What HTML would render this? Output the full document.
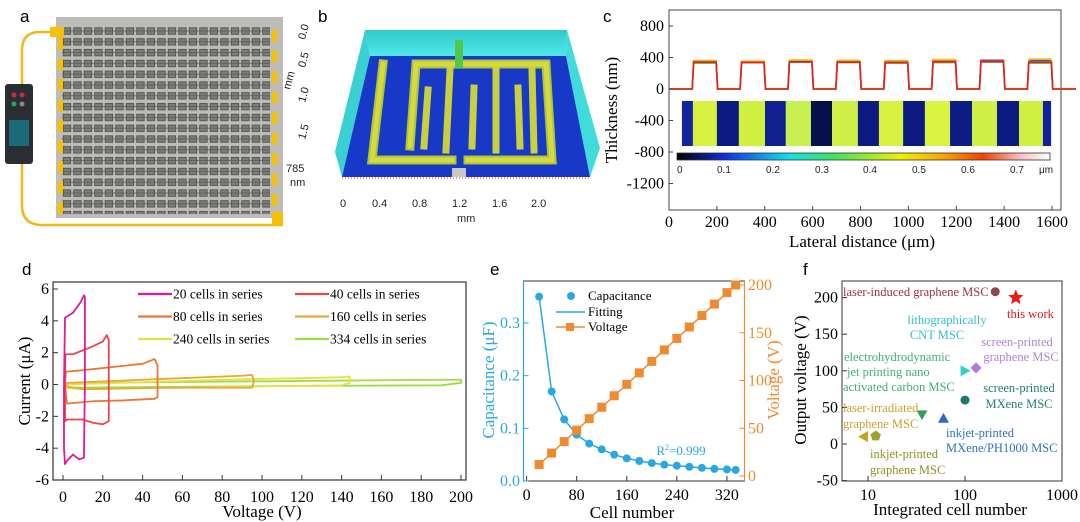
<!DOCTYPE html>
<html><head><meta charset="utf-8"><style>
html,body{margin:0;padding:0;background:#fff;}
svg{display:block;font-family:"Liberation Serif",serif;}
.sans{font-family:"Liberation Sans",sans-serif;}
</style></head><body>
<svg id="fig" width="1080" height="522" viewBox="0 0 1080 522" xmlns="http://www.w3.org/2000/svg">
<defs>
<pattern id="cells" x="62" y="26" width="10.5" height="10.8" patternUnits="userSpaceOnUse">
<rect x="1.2" y="1.8" width="7.5" height="6.5" fill="#7c7c7a" stroke="#4a4a4a" stroke-width="0.8"/>
<line x1="0" y1="5" x2="10.5" y2="5" stroke="#555" stroke-width="0.7"/>
</pattern>
<linearGradient id="cbar" x1="0" x2="1" y1="0" y2="0">
<stop offset="0" stop-color="#000"/><stop offset="0.13" stop-color="#1030e0"/><stop offset="0.3" stop-color="#10e0e8"/><stop offset="0.42" stop-color="#40e060"/><stop offset="0.6" stop-color="#f0f000"/><stop offset="0.72" stop-color="#f8a000"/><stop offset="0.82" stop-color="#f04000"/><stop offset="0.92" stop-color="#f8c0c0"/><stop offset="1" stop-color="#fff"/>
</linearGradient>
<linearGradient id="wallg" x1="0" x2="0" y1="0" y2="1"><stop offset="0" stop-color="#30c8c8"/><stop offset="1" stop-color="#50e8e8"/></linearGradient>
</defs>

<!-- Panel a -->
<g>
<text class="sans" x="20" y="22" font-size="17">a</text>
<rect x="56" y="17" width="227" height="201" fill="#bdbcb8"/>
<rect x="62" y="26" width="208" height="188" fill="url(#cells)"/>
<path d="M55,32 H40 Q22,32 22,50 V205 Q22,225 42,225 H283" fill="none" stroke="#f2b81a" stroke-width="2.5"/>
<rect x="50" y="27" width="14" height="10" fill="#f5c000"/>
<rect x="272" y="212" width="11" height="13" fill="#f5c000"/>
<g id="padsA" fill="#f5c000"></g>
<rect x="5" y="84" width="28" height="80" rx="3" fill="#2a2e33"/>
<rect x="9" y="120" width="20" height="26" fill="#1a6a78"/>
<circle cx="14" cy="95" r="2.5" fill="#c03040"/><circle cx="22" cy="95" r="2.5" fill="#c03040"/><circle cx="14" cy="104" r="2.5" fill="#30a060"/><circle cx="22" cy="104" r="2.5" fill="#888"/>
</g>

<!-- Panel b -->
<g>
<text class="sans" x="318" y="22" font-size="17">b</text>
<polygon points="365,30 567,30 566,56 370,56" fill="url(#wallg)"/>
<polygon points="365,30 370,56 342,177 335,152" fill="#38d0d0"/>
<polygon points="567,30 600,148 590,177 566,56" fill="#40dcdc"/>
<polygon points="370,56 566,56 590,177 342,177" fill="#1838c8"/>
<g stroke-linecap="square" fill="none">
<path d="M383,64 L372,160 H452 M468,160 H552 L546,64 H416 L410,146" stroke="#a8c838" stroke-width="9"/>
<path d="M383,64 L372,160 H452 M468,160 H552 L546,64 H416 L410,146" stroke="#d8d840" stroke-width="5"/>
<path d="M428,90 L424,146 M450,70 L446,150 M474,88 L472,146 M496,70 L496,150 M518,88 L520,146 M532,70 L534,150" stroke="#c8d040" stroke-width="7"/>
<path d="M459,44 V64" stroke="#50c850" stroke-width="8"/>
</g>
<rect x="452" y="168" width="14" height="9" fill="#c8c8c8"/>
<line x1="342" y1="178" x2="590" y2="178" stroke="#d07070" stroke-width="1.5" stroke-dasharray="1,2"/>
<g font-family="Liberation Sans, sans-serif" font-size="11" fill="#222">
<text x="305" y="40" transform="rotate(-75 305 40)">0.0</text>
<text x="305" y="68" transform="rotate(-75 305 68)">0.5</text>
<text x="305" y="103" transform="rotate(-75 305 103)">1.0</text>
<text x="305" y="140" transform="rotate(-75 305 140)">1.5</text>
<text x="290" y="90" transform="rotate(-75 290 90)">mm</text>
<text x="286" y="172">785</text><text x="290" y="186">nm</text>
<text x="340" y="207">0</text><text x="372" y="207">0.4</text><text x="412" y="207">0.8</text><text x="452" y="207">1.2</text><text x="492" y="207">1.6</text><text x="531" y="207">2.0</text>
<text x="457" y="222">mm</text>
</g>
</g>

<!-- Panel c -->
<g id="panelC">
<text class="sans" x="603" y="22" font-size="17">c</text>
<rect x="669" y="10" width="392" height="200" fill="none" stroke="#444" stroke-width="1"/>
<rect x="677" y="153" width="373" height="7" fill="url(#cbar)" stroke="#333" stroke-width="0.8"/>
<g class="sans" font-size="10" fill="#222">
<text x="677" y="173">0</text><text x="717" y="173">0.1</text><text x="766" y="173">0.2</text><text x="815" y="173">0.3</text><text x="863" y="173">0.4</text><text x="912" y="173">0.5</text><text x="961" y="173">0.6</text><text x="1010" y="173">0.7</text><text x="1039" y="173">μm</text>
</g>
<text x="617" y="110" font-size="17" text-anchor="middle" transform="rotate(-90 617 110)">Thickness (nm)</text>
<text x="862" y="247" font-size="17" text-anchor="middle">Lateral distance (μm)</text>
</g>

<!-- Panel d -->
<g id="panelD">
<text class="sans" x="22" y="275" font-size="17">d</text>
<rect x="53" y="282" width="413" height="198" fill="none" stroke="#333" stroke-width="1.2"/>
<text x="30" y="381" font-size="17" text-anchor="middle" transform="rotate(-90 30 381)">Current (μA)</text>
<text x="262" y="517" font-size="17" text-anchor="middle">Voltage (V)</text>
</g>

<!-- Panel e -->
<g id="panelE">
<text class="sans" x="490" y="275" font-size="17">e</text>
<rect x="523.5" y="281" width="221" height="200" fill="none" stroke="#333" stroke-width="1"/>
<line x1="523.5" y1="281" x2="523.5" y2="481" stroke="#29a8e0" stroke-width="1.2"/>
<line x1="744.5" y1="281" x2="744.5" y2="481" stroke="#f08a30" stroke-width="1.2"/>
<text x="494" y="380" font-size="17" fill="#29a8e0" text-anchor="middle" transform="rotate(-90 494 380)">Capacitance (μF)</text>
<text x="779" y="380" font-size="17" fill="#f08a30" text-anchor="middle" transform="rotate(-90 779 380)">Voltage (V)</text>
<text x="632" y="518" font-size="17" text-anchor="middle">Cell number</text>
<text x="681" y="455" font-size="13" fill="#29a8e0" text-anchor="middle">R<tspan font-size="8" dy="-5">2</tspan><tspan dy="5">=0.999</tspan></text>
<g>
<circle cx="571" cy="296" r="4" fill="#29a8e0"/><text x="588" y="300" font-size="13">Capacitance</text>
<line x1="556" y1="312" x2="585" y2="312" stroke="#29a8e0" stroke-width="1.5"/><text x="588" y="316" font-size="13">Fitting</text>
<line x1="556" y1="327" x2="585" y2="327" stroke="#f08a30" stroke-width="1.5"/><rect x="566" y="323" width="8" height="8" fill="#f08a30"/><text x="588" y="331" font-size="13">Voltage</text>
</g>
</g>

<!-- Panel f -->
<g id="panelF">
<text class="sans" x="803" y="275" font-size="17">f</text>
<rect x="842" y="281" width="220" height="200" fill="none" stroke="#333" stroke-width="1"/>
<text x="806" y="380" font-size="17" text-anchor="middle" transform="rotate(-90 806 380)">Output voltage (V)</text>
<text x="950" y="515" font-size="17" text-anchor="middle">Integrated cell number</text>
</g>
</svg>

<script>
// ---------- Panel c data ----------
const cPulseStarts = [100, 300, 500, 700, 900, 1100, 1300, 1500];
const cPulseWidth = 100;
const cSeriesColors = ["#3060d0", "#8030c0", "#40c040", "#e8d020", "#f08020", "#e02020"];
const cSeriesHeights = [
  [360, 350, 365, 355, 350, 370, 355, 365],
  [345, 340, 355, 345, 345, 360, 365, 350],
  [330, 335, 340, 335, 330, 335, 340, 330],
  [360, 355, 370, 365, 360, 375, 350, 380],
  [350, 345, 350, 350, 350, 355, 350, 345],
  [340, 335, 345, 340, 335, 345, 350, 340]
];
const cXTicks = [0, 200, 400, 600, 800, 1000, 1200, 1400, 1600];
const cYTicks = [800, 400, 0, -400, -800, -1200];
const cBandStarts = [54, 100, 200, 292, 401, 488, 593, 681, 789, 877, 978, 1069, 1174, 1266, 1370, 1462, 1562];
const cBandEnd = 1596;
const cBandColors = ["#14249c","#d8f040","#0e1a84","#d0f040","#102090","#c8f050","#06104a","#d0f048","#0e1a84","#d8f040","#0c1a80","#d8f440","#0e1c86","#d0f048","#0e1a84","#d0f040","#1020a0"];

// ---------- Panel d data ----------
const dLabels = ["20 cells in series","40 cells in series","80 cells in series","160 cells in series","240 cells in series","334 cells in series"];
const dColors = ["#e0189a","#e84848","#e87838","#e8a838","#e8e040","#98e040"];
const dV20 = [0.5,1,5,9,10.5,11,11,10.5,8,5,2,1,0.5,0.5];
const dI20 = [0,4.2,4.5,5.2,5.6,5.5,0,-4.6,-4.7,-4.4,-4.8,-5.0,-4,0];
const dV40 = [1,1.2,5,15,20,22,23,23,20,15,10,2,1,1];
const dI40 = [0,1.9,1.9,2.4,2.7,3.1,2.8,-2.3,-2.5,-2.4,-2.2,-2.2,-2.3,0];
const dV80 = [1,1.5,10,25,40,46,47.5,47.5,46,30,15,2,1];
const dI80 = [0,0.8,0.9,1.1,1.3,1.6,1.2,-0.8,-0.9,-1.0,-1.05,-1.2,0];
const dV160 = [1,2,50,90,95,96,95,50,10,1];
const dI160 = [-0.1,0.1,0.35,0.55,0.6,0.2,-0.2,-0.2,-0.3,-0.1];
const dV240 = [1,2,80,140,144,144,140,80,10,1];
const dI240 = [-0.2,0.0,0.3,0.45,0.5,0.1,-0.05,-0.15,-0.3,-0.2];
const dV334 = [1,5,100,190,200,200,190,100,5,1];
const dI334 = [-0.1,0.1,0.2,0.3,0.3,0.1,-0.05,-0.1,-0.2,-0.1];
const dXTicks = [0,20,40,60,80,100,120,140,160,180,200];
const dYTicks = [6,4,2,0,-2,-4,-6];

// ---------- Panel e data ----------
const eCells = [20,40,60,80,100,120,140,160,180,200,220,240,260,280,300,320,334];
const eCapacitance = [0.35,0.17,0.117,0.088,0.071,0.06,0.05,0.043,0.038,0.034,0.031,0.029,0.027,0.025,0.023,0.022,0.021];
const eVoltage = [12,24,36,48,60,72,84,96,108,120,132,144,156,168,180,192,200];
const eXTicks = [0,80,160,240,320];
const eLeftTicks = [0.0,0.1,0.2,0.3];
const eRightTicks = [0,50,100,150,200];

// ---------- Panel f data ----------
const fNames = ["laser-induced graphene","this work","screen-printed graphene","lithographically CNT","screen-printed MXene","electrohydrodynamic nano AC","inkjet MXene/PH1000","laser-irradiated graphene","inkjet graphene"];
const fCells = [205, 334, 130, 100, 100, 36, 60, 9, 12];
const fVolts = [208, 200, 104, 100, 60, 40, 35, 10, 11];
const fColors = ["#8a4a48","#f01818","#b078e0","#30d0d0","#1a7a70","#30a060","#2a6ad0","#c8a020","#a0a030"];
const fShapes = ["circle","star","diamond","tri-right","circle","tri-down","tri-up","tri-left","pentagon"];
const fXTicks = [10,100,1000];
const fYTicks = [200,150,100,50,0,-50];

const NS = "http://www.w3.org/2000/svg";
function mk(tag, attrs, parent){ const e=document.createElementNS(NS,tag); for(const k in attrs) e.setAttribute(k,attrs[k]); parent.appendChild(e); return e; }

// ---- Panel a pads ----
const padsA = document.getElementById("padsA");
for(let i=0;i<9;i++){
  const p1 = mk("rect",{x:58,y:38+i*20.5,width:5,height:12},padsA);
  
  
  const p2 = mk("rect",{x:272,y:30+i*20.5,width:5,height:12},padsA);
  
  
}

// ---- Panel c ----
const gc = document.getElementById("panelC");
const xc = v => 669 + v*0.2394;
const yc = v => 89 - v*(31.5/400);
for(let i=0;i<cBandStarts.length;i++){
  const x0 = xc(cBandStarts[i]);
  const x1 = i+1<cBandStarts.length ? xc(cBandStarts[i+1]) : xc(cBandEnd);
  const r = mk("rect",{x:x0,y:101,width:x1-x0,height:45,fill:cBandColors[i]},gc);
  
  
}
cSeriesHeights.forEach((hs,si)=>{
  let d = "M"+xc(0)+","+yc(0);
  cPulseStarts.forEach((s,k)=>{
    d += " L"+xc(s-3)+","+yc(0)+" L"+xc(s+3)+","+yc(hs[k])+" L"+xc(s+cPulseWidth-3)+","+yc(hs[k])+" L"+xc(s+cPulseWidth+3)+","+yc(0);
  });
  d += " L"+xc(1700)+","+yc(0);
  const p = mk("path",{d:d,fill:"none",stroke:cSeriesColors[si],"stroke-width":1.6},gc);
  
  
});
cXTicks.forEach(v=>{
  mk("line",{x1:xc(v),y1:210,x2:xc(v),y2:206,stroke:"#444"},gc);
  const t = mk("text",{x:xc(v),y:227,"font-size":16,"text-anchor":"middle"},gc); t.textContent=v;
  
  
});
cYTicks.forEach(v=>{
  mk("line",{x1:669,y1:yc(v),x2:673,y2:yc(v),stroke:"#444"},gc);
  const t = mk("text",{x:664,y:yc(v)+5,"font-size":16,"text-anchor":"end"},gc); t.textContent=v;
  
  
});

// ---- Panel d ----
const gd = document.getElementById("panelD");
const xd = v => 63 + v*1.99;
const yd = v => 384.5 - v*15.92;
const dV=[dV20,dV40,dV80,dV160,dV240,dV334], dI=[dI20,dI40,dI80,dI160,dI240,dI334];
for(let s=dV.length-1;s>=0;s--){
  const pts = dV[s].map((v,i)=>xd(v)+","+yd(dI[s][i])).join(" ");
  const pl = mk("polyline",{points:pts,fill:"none",stroke:dColors[s],"stroke-width":1.8,"stroke-linejoin":"round"},gd);
  
  
}
dXTicks.forEach(v=>{
  mk("line",{x1:xd(v),y1:480,x2:xd(v),y2:475,stroke:"#333"},gd);
  const t = mk("text",{x:xd(v),y:502,"font-size":16,"text-anchor":"middle"},gd); t.textContent=v;
  
  
});
dYTicks.forEach(v=>{
  mk("line",{x1:53,y1:yd(v),x2:58,y2:yd(v),stroke:"#333"},gd);
  const t = mk("text",{x:49,y:yd(v)+5,"font-size":16,"text-anchor":"end"},gd); t.textContent=v;
  
  
});
dLabels.forEach((lab,i)=>{
  const cx = i%2===0 ? 138 : 295, cy = 294 + Math.floor(i/2)*22.5;
  const l = mk("line",{x1:cx,y1:cy,x2:cx+34,y2:cy,stroke:dColors[i],"stroke-width":2.2},gd);
  
  
  const t = mk("text",{x:cx+35,y:cy+4.5,"font-size":13.5},gd); t.textContent=lab;
  
  
});

// ---- Panel e ----
const ge = document.getElementById("panelE");
const xe = n => 526.6 + n*0.626;
const yeL = c => 481 - c*526.7;
const yeR = v => 476 - v*0.955;
const fit = mk("polyline",{points:eCells.map((n,i)=>xe(n)+","+yeL(eCapacitance[i])).join(" "),fill:"none",stroke:"#29a8e0","stroke-width":1.5},ge);


const vl = mk("polyline",{points:eCells.map((n,i)=>xe(n)+","+yeR(eVoltage[i])).join(" "),fill:"none",stroke:"#f08a30","stroke-width":1.5},ge);


eCells.forEach((n,i)=>{
  const c = mk("circle",{cx:xe(n),cy:yeL(eCapacitance[i]),r:4,fill:"#29a8e0"},ge);
  
  
  const s = mk("rect",{x:xe(n)-4.5,y:yeR(eVoltage[i])-4.5,width:9,height:9,fill:"#f08a30"},ge);
  
  
});
eXTicks.forEach(v=>{
  mk("line",{x1:xe(v),y1:481,x2:xe(v),y2:476,stroke:"#333"},ge);
  const t = mk("text",{x:xe(v),y:500,"font-size":16,"text-anchor":"middle"},ge); t.textContent=v;
  
  
});
eLeftTicks.forEach(v=>{
  mk("line",{x1:523.5,y1:yeL(v),x2:528.5,y2:yeL(v),stroke:"#29a8e0"},ge);
  const t = mk("text",{x:520,y:yeL(v)+5,"font-size":16,"text-anchor":"end",fill:"#29a8e0"},ge); t.textContent=v.toFixed(1);
  
  
});
eRightTicks.forEach(v=>{
  mk("line",{x1:739.5,y1:yeR(v),x2:744.5,y2:yeR(v),stroke:"#f08a30"},ge);
  const t = mk("text",{x:748,y:yeR(v)+5,"font-size":16,fill:"#f08a30"},ge); t.textContent=v;
  
  
});

// ---- Panel f ----
const gf = document.getElementById("panelF");
const xf = n => 868 + 97*Math.log10(n/10);
const yf = v => 444 - v*0.732;
function shapePath(sh,x,y,r){
  if(sh==="diamond") return `M${x},${y-r} L${x+r},${y} L${x},${y+r} L${x-r},${y}Z`;
  if(sh==="tri-up") return `M${x},${y-r} L${x+r},${y+r*0.8} L${x-r},${y+r*0.8}Z`;
  if(sh==="tri-down") return `M${x-r},${y-r*0.8} L${x+r},${y-r*0.8} L${x},${y+r}Z`;
  if(sh==="tri-right") return `M${x-r*0.8},${y-r} L${x+r},${y} L${x-r*0.8},${y+r}Z`;
  if(sh==="tri-left") return `M${x+r*0.8},${y-r} L${x-r},${y} L${x+r*0.8},${y+r}Z`;
  let n = sh==="star"?10:5, d="";
  for(let k=0;k<n;k++){ const a=-Math.PI/2+k*2*Math.PI/n; const rr = sh==="star"&&k%2? r*0.45 : r; d+=(k?"L":"M")+(x+rr*Math.cos(a))+","+(y+rr*Math.sin(a)); }
  return d+"Z";
}
fCells.forEach((n,i)=>{
  let m;
  if(fShapes[i]==="circle") m = mk("circle",{cx:xf(n),cy:yf(fVolts[i]),r:4.5,fill:fColors[i]},gf);
  else m = mk("path",{d:shapePath(fShapes[i],xf(n),yf(fVolts[i]),fShapes[i]==="star"?8:5.5),fill:fColors[i]},gf);
  
  
});
fXTicks.forEach(v=>{
  mk("line",{x1:xf(v),y1:481,x2:xf(v),y2:476,stroke:"#333"},gf);
  const t = mk("text",{x:xf(v),y:500,"font-size":16,"text-anchor":"middle"},gf); t.textContent=v;
  
  
});
fYTicks.forEach(v=>{
  mk("line",{x1:842,y1:yf(v),x2:847,y2:yf(v),stroke:"#333"},gf);
  const t = mk("text",{x:838,y:yf(v)+5,"font-size":16,"text-anchor":"end"},gf); t.textContent=v;
  
  
});
const fLabels = [
  ["laser-induced graphene MSC",843,296,"#a03038","start"],
  ["this work",1007,318,"#e01818","start"],
  ["lithographically",947,324,"#30c0c8","middle"],["CNT MSC",937,339,"#30c0c8","middle"],
  ["screen-printed",1017,346,"#b080d8","middle"],["graphene MSC",1021,361,"#b080d8","middle"],
  ["electrohydrodynamic",844,361,"#40b070","start"],["jet printing nano",847,376,"#40b070","start"],["activated carbon MSC",843,391,"#40b070","start"],
  ["screen-printed",1019,392,"#208070","middle"],["MXene MSC",1019,408,"#208070","middle"],
  ["laser-irradiated",843,412,"#c8a030","start"],["graphene MSC",843,428,"#c8a030","start"],
  ["inkjet-printed",946,437,"#3070c0","start"],["MXene/PH1000 MSC",946,452,"#3070c0","start"],
  ["inkjet-printed",870,458,"#909020","start"],["graphene MSC",870,474,"#909020","start"]
];
fLabels.forEach(l=>{
  const t = mk("text",{x:l[1],y:l[2],"font-size":12.5,fill:l[3],"text-anchor":l[4]},gf); t.textContent=l[0];
  
  
});
</script>
</body></html>
